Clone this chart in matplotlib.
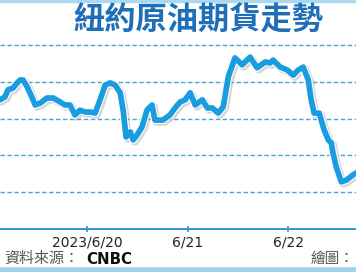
import matplotlib
matplotlib.use("Agg")
import matplotlib.pyplot as plt
import matplotlib.patheffects as pe

# Data: hours relative to 2023/6/20 00:00, price (USD/barrel, estimated)
hours = [-20.8, -19.6, -18.9, -17.7, -16.7, -16.0, -15.3, -14.3, -13.1, -12.4,
         -11.2, -9.6, -8.1, -6.4, -5.3, -4.1, -2.9, -1.7, -0.5, 0.7,
         1.9, 3.1, 4.3, 5.5, 6.7, 7.9, 8.6, 9.3, 10.3, 11.0,
         11.9, 13.1, 14.3, 15.5, 16.2, 18.1, 19.8, 21.0, 22.2, 23.4,
         24.6, 25.8, 27.5, 28.7, 29.9, 31.3, 32.5, 33.7, 35.3, 37.0,
         38.9, 40.6, 42.5, 43.7, 44.4, 46.1, 47.8, 49.2, 50.4, 51.6,
         52.8, 53.5, 54.2, 55.4, 56.6, 57.6, 58.3, 58.7, 59.5, 60.7,
         61.9, 62.6, 63.5, 64.2]
prices = [70.51, 70.59, 70.78, 70.83, 70.97, 71.05, 71.05, 70.86, 70.56, 70.37,
          70.42, 70.56, 70.56, 70.45, 70.37, 70.37, 70.10, 70.23, 70.18, 70.18,
          70.15, 70.51, 70.91, 70.97, 70.91, 70.70, 70.23, 69.50, 69.64, 69.42,
          69.55, 69.77, 70.23, 70.37, 69.96, 69.96, 70.10, 70.29, 70.45, 70.51,
          70.70, 70.37, 70.51, 70.29, 70.29, 70.15, 70.32, 71.13, 71.65, 71.46,
          71.67, 71.38, 71.54, 71.51, 71.59, 71.40, 71.32, 71.18, 71.32, 71.40,
          71.05, 70.51, 70.15, 70.15, 69.69, 69.42, 69.34, 69.07, 68.68, 68.28,
          68.33, 68.39, 68.47, 68.52]
tick_hours = [0, 24, 48]
tick_labels = ["2023/6/20", "6/21", "6/22"]
grid_levels = [68, 69, 70, 71, 72]

title = "紐約原油期貨走勢"
source_label = "資料來源："
source_name = "CNBC"
credit = "繪圖："

W, H = 356, 272
fig = plt.figure(figsize=(W / 100, H / 100), dpi=100)
fig.patch.set_facecolor("white")

ax = fig.add_axes([0, (H - 229) / H, 1, (229 - 40) / H])
ax.set_xlim(-20.8, 64.2)
ax.set_ylim(67, 72.136)
ax.set_facecolor("none")

for lvl in grid_levels:
    ax.axhline(lvl, color="#45a6d2", lw=1.0, ls=(0, (3.2, 1.8)), zorder=1)

line_color = "#1a9de0"
ax.plot(hours, prices, color=line_color, lw=4.1, solid_joinstyle="round",
        solid_capstyle="round", zorder=3,
        path_effects=[pe.SimpleLineShadow(offset=(1.2, -1.2), shadow_color="#888888", alpha=0.35, linewidth=5.8),
                      pe.Stroke(linewidth=5.7, foreground="white"),
                      pe.Normal()])

for s in ["top", "left", "right"]:
    ax.spines[s].set_visible(False)
ax.spines["bottom"].set_color("#2a9ad3")
ax.spines["bottom"].set_linewidth(1.4)
ax.set_yticks([])
ax.set_xticks(tick_hours)
ax.set_xticklabels(tick_labels, fontsize=10, color="#222222", family=["DejaVu Sans"])
ax.tick_params(axis="x", direction="inout", length=4, width=1.2, color="#2a9ad3", pad=3)

# Decorative bands
fig.add_artist(plt.Line2D([0, 1], [1 - 1 / H, 1 - 1 / H], color="#a9d9ef", lw=2.5))
fig.add_artist(plt.Line2D([0, 1], [2 / H, 2 / H], color="#9fd4ec", lw=4))

cjk = ["Noto Sans CJK TC", "DejaVu Sans"]
fig.text(198 / W, 1 - 21 / H, title, ha="center", va="center", fontsize=22.5,
         color="#1f6fb8", fontweight="bold", family=cjk)
fig.text(4 / W, 1 - 259 / H, source_label, ha="left", va="center", fontsize=10.8,
         color="#555555", family=cjk)
fig.text(86 / W, 1 - 259 / H, source_name, ha="left", va="center", fontsize=10.8,
         color="#111111", fontweight="bold", family=["DejaVu Sans"])
fig.text(354 / W, 1 - 259 / H, credit, ha="right", va="center", fontsize=10.5,
         color="#555555", family=cjk)

fig.savefig("out.png", dpi=100)
